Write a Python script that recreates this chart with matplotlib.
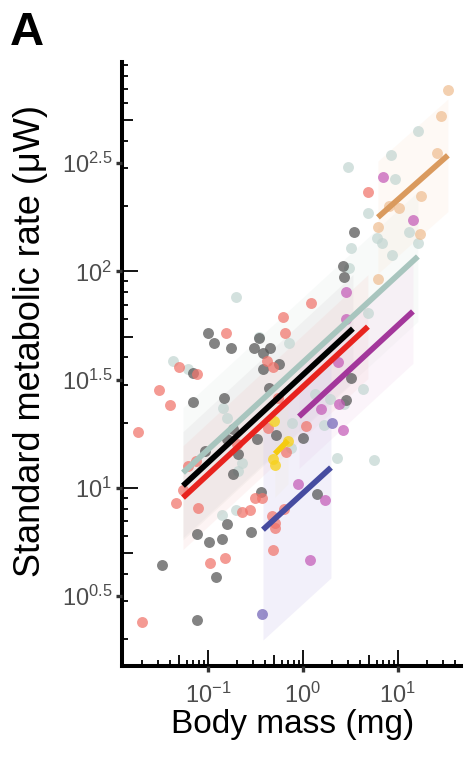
import numpy as np
import matplotlib
matplotlib.use("Agg")
import matplotlib.pyplot as plt
from matplotlib.ticker import FixedLocator, NullFormatter

plt.rcParams["font.family"] = ["Liberation Sans", "DejaVu Sans"]
plt.rcParams["mathtext.fontset"] = "custom"
plt.rcParams["mathtext.rm"] = "Liberation Sans"
plt.rcParams["mathtext.it"] = "Liberation Sans:italic"
plt.rcParams["mathtext.bf"] = "Liberation Sans:bold"

# ---- observations: log10 body mass (mg) and log10 standard metabolic rate (uW) ----
gray_logm = [-1.000, -0.937, -0.758, -0.516, -0.463, -0.421, -0.347, -0.253, -0.421, -1.158,
             -1.158, -0.832, -0.358, -0.737, -0.800, -0.684, -0.484, -0.284, 0.000, 0.453,
             0.505, -1.032, -0.737, -0.442, 0.147, -1.116, -0.989, -0.853, -0.800, -0.547,
             -1.484, -0.916, -1.116, 0.537, 0.421, 0.432]
gray_logr = [1.713, 1.671, 1.648, 1.648, 1.690, 1.625, 1.648, 1.574, 1.551, 1.532,
             1.398, 1.417, 1.463, 1.273, 1.227, 1.157, 1.227, 1.245, 1.231, 1.407,
             1.509, 1.171, 1.065, 0.981, 0.972, 0.787, 0.750, 0.764, 0.833, 0.796,
             0.644, 0.588, 0.389, 2.181, 2.023, 1.972]

red_logm = [-0.811, -1.305, -1.116, -1.516, -1.400, -1.737, 0.084, -0.211, -0.189, -0.379,
            -0.316, -0.263, -0.368, -0.695, -1.211, -1.126, 0.032, -0.179, -1.263, -1.337,
            -1.105, -0.642, -0.558, -0.505, -0.432, -0.326, -0.295, -0.295, -0.200, -0.316,
            -0.979, -0.821, -1.695, 0.684]
red_logr = [1.713, 1.560, 1.528, 1.454, 1.384, 1.259, 1.856, 1.787, 1.713, 1.588,
            1.560, 1.417, 1.278, 1.204, 1.102, 1.125, 1.287, 1.167, 0.991, 0.931,
            0.907, 0.889, 0.898, 0.954, 0.954, 0.870, 0.838, 0.815, 0.903, 0.713,
            0.653, 0.676, 0.380, 2.366]

teal_logm = [-1.368, -1.211, -0.842, -0.800, -0.705, -0.463, -0.147, -0.642, -0.684, -0.116,
             0.126, 0.284, 0.221, 0.358, 0.432, -0.853, -0.705, -0.126, 0.747, 0.632,
             0.684, 0.684, 0.505, 0.484, 0.779, 0.832, 0.937, 1.116, 1.211, 0.474,
             0.926, 0.968, 1.211]
teal_logr = [1.588, 1.551, 1.370, 1.324, 1.880, 1.699, 1.671, 1.116, 1.079, 1.301,
             1.435, 1.412, 1.292, 1.139, 1.389, 0.875, 0.898, 1.185, 1.130, 1.458,
             1.806, 2.269, 2.106, 2.014, 2.153, 2.130, 2.074, 2.181, 2.130, 2.481,
             2.537, 2.426, 2.648]

purple_logm = [0.842, 1.158, 0.453, 0.453, 0.368, 0.189, 0.379, 0.421, -0.053, 0.232, 0.074]
purple_logr = [2.435, 2.236, 1.903, 1.782, 1.583, 1.366, 1.389, 1.269, 1.019, 0.944, 0.667]

orange_logm = [1.526, 1.453, 1.411, 1.242, 0.905, 1.011, 0.789, 1.232, 0.789]
orange_logr = [2.838, 2.718, 2.546, 2.347, 2.301, 2.292, 2.204, 2.171, 1.963]

yellow_logm = [-0.305, -0.158, -0.316, -0.295]
yellow_logr = [1.310, 1.218, 1.134, 1.106]

blue_logm = [-0.432, 0.305]
blue_logr = [0.417, 1.301]

# ---- fitted allometric lines: log10(SMR) = intercept + slope * log10(mass) ----
fit_groups = ["teal", "gray", "red", "purple", "orange", "yellow", "blue"]
fit_slope = [0.404, 0.406, 0.406, 0.405, 0.389, 0.445, 0.401]
fit_intercept = [1.580, 1.522, 1.467, 1.346, 1.943, 1.288, 0.975]
fit_logm_min = [-1.263, -1.263, -1.263, -0.042, 0.789, -0.295, -0.421]
fit_logm_max = [1.210, 0.526, 0.684, 1.158, 1.526, -0.158, 0.295]
fit_band = [0.30, 0.25, 0.24, 0.24, 0.26, 0.20, 0.51]

point_colors = {"gray": "#595959", "red": "#F0736A", "teal": "#C3D6D2", "purple": "#C45AB7",
                "orange": "#EFBE92", "yellow": "#F7D21E", "blue": "#7F72BD"}
point_alpha = {"gray": 0.75, "red": 0.72, "teal": 0.72, "purple": 0.72,
               "orange": 0.72, "yellow": 0.8, "blue": 0.8}
line_colors = {"gray": "#000000", "red": "#E8231E", "teal": "#A8C5BE", "purple": "#A3379B",
               "orange": "#DA9A5E", "yellow": "#F5CB10", "blue": "#464CA0"}
band_colors = {"gray": "#C8C8C8", "red": "#F6B8B2", "teal": "#DCE8E5", "purple": "#EFD0EA",
               "orange": "#FAE3CF", "yellow": "#FAEFC0", "blue": "#D6CFEF"}
band_alpha = {"gray": 0.16, "red": 0.14, "teal": 0.2, "purple": 0.22,
              "orange": 0.2, "yellow": 0.15, "blue": 0.3}

points = {"gray": (gray_logm, gray_logr), "red": (red_logm, red_logr),
          "teal": (teal_logm, teal_logr), "purple": (purple_logm, purple_logr),
          "orange": (orange_logm, orange_logr), "yellow": (yellow_logm, yellow_logr),
          "blue": (blue_logm, blue_logr)}

ytick_exp = [0.5, 1, 1.5, 2, 2.5]
ytick_labels = [r"$\mathregular{10^{0.5}}$", r"$\mathregular{10^{1}}$", r"$\mathregular{10^{1.5}}$",
                r"$\mathregular{10^{2}}$", r"$\mathregular{10^{2.5}}$"]
xtick_exp = [-1, 0, 1]
xtick_labels = [r"$\mathregular{10^{-1}}$", r"$\mathregular{10^{0}}$", r"$\mathregular{10^{1}}$"]

XLIM = (10 ** -1.905, 10 ** 1.664)
YLIM = (10 ** 0.176, 10 ** 2.968)
rect = [122 / 466, 1 - 666 / 761, (461 - 122) / 466, (666 - 62) / 761]

fig = plt.figure(figsize=(4.66, 7.61), dpi=100)
ax = fig.add_axes(rect)
ax.set_xscale("log")
ax.set_yscale("log")
ax.set_xlim(*XLIM)
ax.set_ylim(*YLIM)

# confidence bands
for g, b, a, lo, hi, hw in zip(fit_groups, fit_slope, fit_intercept, fit_logm_min, fit_logm_max, fit_band):
    lx = np.array([lo, hi])
    ly = a + b * lx
    ax.fill_between(10 ** lx, 10 ** (ly - hw), 10 ** (ly + hw), color=band_colors[g],
                    alpha=band_alpha[g], linewidth=0, zorder=1)

# observations
for g in ["teal", "orange", "gray", "red", "purple", "yellow", "blue"]:
    mx, ry = points[g]
    ax.scatter(10 ** np.array(mx), 10 ** np.array(ry), s=62, color=point_colors[g],
               alpha=point_alpha[g], linewidths=0, zorder=2)

# regression lines
for g, b, a, lo, hi in zip(fit_groups, fit_slope, fit_intercept, fit_logm_min, fit_logm_max):
    lx = np.array([lo, hi])
    ax.plot(10 ** lx, 10 ** (a + b * lx), color=line_colors[g], lw=4.1,
            solid_capstyle="butt", zorder=3)

# axes styling
for s in ["top", "right"]:
    ax.spines[s].set_visible(False)
for s in ["left", "bottom"]:
    ax.spines[s].set_linewidth(2.9)
    ax.spines[s].set_color("black")

# logarithmic tick marks inside the panel: long at 10^n, short elsewhere
decades = range(-3, 4)
long_pos = [10.0 ** d for d in decades]
mid_pos = [5 * 10.0 ** d for d in decades]
short_pos = [k * 10.0 ** d for d in decades for k in (2, 3, 4, 6, 7, 8, 9)]

for axis in (ax.xaxis, ax.yaxis):
    axis.set_major_locator(FixedLocator(long_pos))
    axis.set_minor_locator(FixedLocator(short_pos))
    axis.set_major_formatter(NullFormatter())
    axis.set_minor_formatter(NullFormatter())
ax.tick_params(which="major", direction="in", length=11.5, width=1.3, color="black")
ax.tick_params(which="minor", direction="in", length=4.3, width=1.3, color="black")

# overlay axes: labelled ticks outside, medium log ticks (5 x 10^n) inside
ax2 = fig.add_axes(rect)
ax2.patch.set_visible(False)
ax2.set_xscale("log")
ax2.set_yscale("log")
ax2.set_xlim(*XLIM)
ax2.set_ylim(*YLIM)
ax2.spines[:].set_visible(False)
ax2.xaxis.set_major_locator(FixedLocator([10.0 ** e for e in xtick_exp]))
ax2.set_xticklabels(xtick_labels)
ax2.yaxis.set_major_locator(FixedLocator([10.0 ** e for e in ytick_exp]))
ax2.set_yticklabels(ytick_labels)
ax2.xaxis.set_minor_locator(FixedLocator(mid_pos))
ax2.yaxis.set_minor_locator(FixedLocator(mid_pos))
ax2.xaxis.set_minor_formatter(NullFormatter())
ax2.yaxis.set_minor_formatter(NullFormatter())
ax2.tick_params(which="major", direction="out", length=4, width=2.4, color="#333333",
                labelcolor="#4D4D4D", labelsize=17)
ax2.tick_params(axis="x", which="major", pad=8)
ax2.tick_params(axis="y", which="major", pad=3)
ax2.tick_params(which="minor", direction="in", length=7.9, width=1.3, color="black")

fig.text(31 / 466, 1 - 341 / 761, "Standard metabolic rate (\u03bcW)", rotation=90,
         ha="center", va="center", fontsize=26, color="black")
fig.text(293 / 466, 1 - 724 / 761, "Body mass (mg)", ha="center", va="center",
         fontsize=24, color="black")
fig.text(10 / 466, 1 - 45 / 761, "A", ha="left", va="baseline", fontsize=34,
         fontweight="bold", color="black")

fig.savefig("out.png", dpi=100)
